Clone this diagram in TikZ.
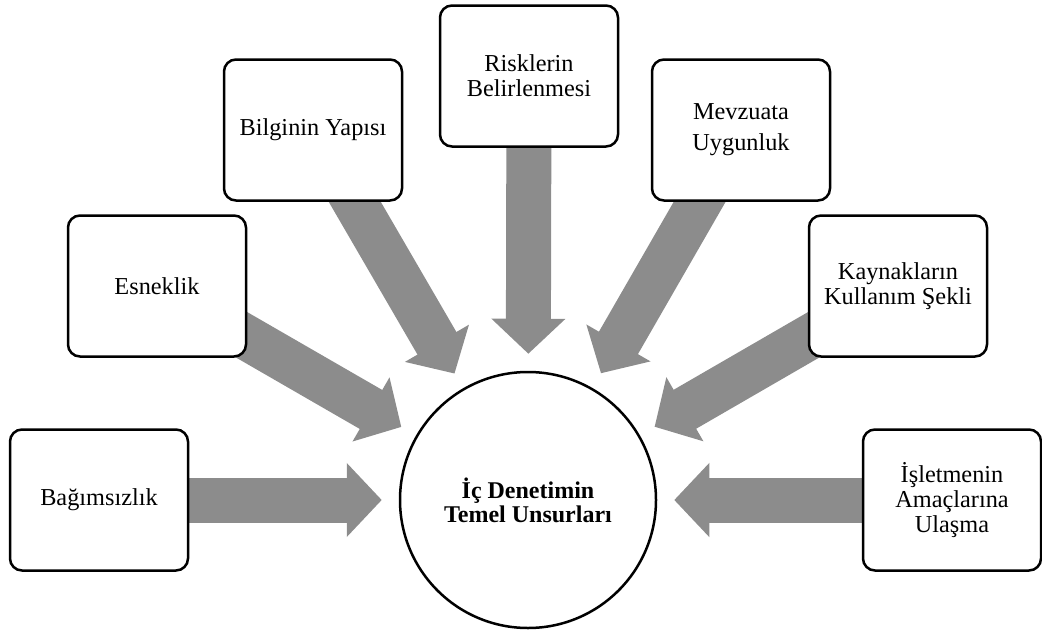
\documentclass[tikz,border=0pt]{standalone}
\usepackage{fontspec}
\setmainfont{Liberation Serif}
\usetikzlibrary{arrows.meta,backgrounds}
\definecolor{spokegray}{RGB}{140,140,140}
\begin{document}
\begin{tikzpicture}[x=1pt, y=-1pt,
    font=\fontsize{24.3}{25}\selectfont,
    item/.style={draw, line width=2.5pt, rounded corners=12pt, fill=white,
        minimum width=178pt, minimum height=141pt, align=center},
    hubnode/.style={draw, circle, line width=2.5pt, fill=white,
        minimum size=256pt, align=center, font=\fontsize{24}{24}\selectfont\bfseries},
    spoke/.style={draw=spokegray, line width=45pt, shorten >=17pt,
        -{Triangle[length=35pt, width=72pt]}}]
    \useasboundingbox (0,0) rectangle (1042,632);

    % Centre circle
    \node[hubnode] (hub) at (528,500) {İç Denetimin\\Temel Unsurları};

    % Surrounding boxes
    \node[item] (bag) at (99,500) {Bağımsızlık};
    \node[item] (esn) at (157,286) {Esneklik};
    \node[item] (bil) at (313,130) {Bilginin Yapısı};
    \node[item] (ris) at (529,76) {Risklerin\\Belirlenmesi};
    \node[item] (mev) at (741,130) {Mevzuata\\[6pt]Uygunluk};
    \node[item] (kay) at (898,286) {Kaynakların\\Kullanım Şekli};
    \node[item] (isl) at (952,500) {İşletmenin\\Amaçlarına\\Ulaşma};

    % Block arrows behind the boxes
    \begin{scope}[on background layer]
        \foreach \b in {bag,esn,bil,ris,mev,kay,isl} {
            \draw[spoke] (\b.center) -- (hub);
        }
    \end{scope}
\end{tikzpicture}
\end{document}
